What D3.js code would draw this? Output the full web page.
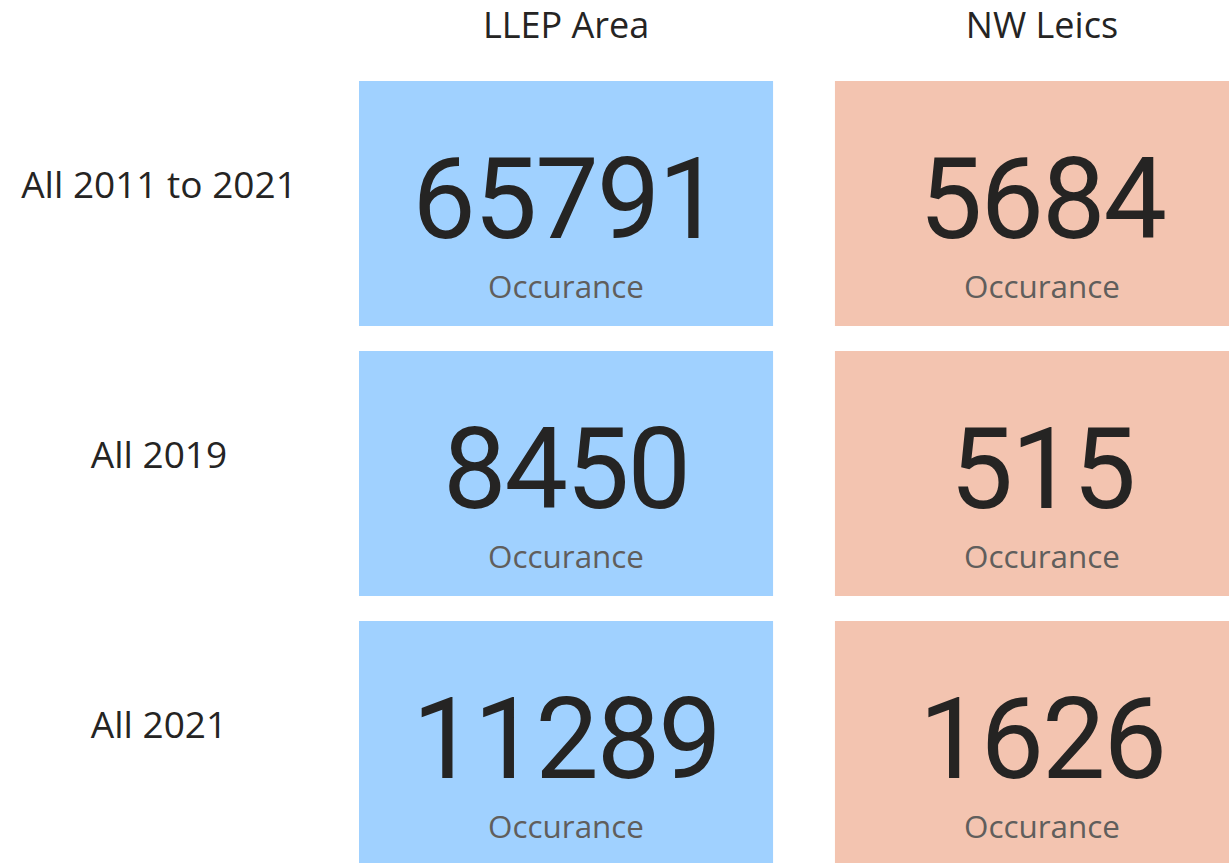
<!DOCTYPE html>
<html>
<head>
<meta charset="utf-8">
<script src="https://cdn.jsdelivr.net/npm/d3@7"></script>
<style>
  body { margin: 0; background: #fff; overflow: hidden; }
</style>
</head>
<body>
<div id="cards"></div>
<script>
var svgWidth = 1229;
var svgHeight = 863;

// data
var areas = ["LLEP Area", "NW Leics"];
var periods = ["All 2011 to 2021", "All 2019", "All 2021"];
var llepValues = [65791, 8450, 11289];
var nwLeicsValues = [5684, 515, 1626];
var measureLabel = "Occurance";
var areaColors = ["#a0d1ff", "#f3c4b0"];

var cells = [];
periods.forEach(function(p, i) {
  cells.push({ area: areas[0], period: p, value: llepValues[i] });
  cells.push({ area: areas[1], period: p, value: nwLeicsValues[i] });
});

var svg = d3.select("#cards")
  .append("svg")
  .attr("width", svgWidth)
  .attr("height", svgHeight);

var xScale = d3.scaleBand()
  .domain(areas)
  .range([359, 1249])
  .paddingInner(0.13);

var yScale = d3.scaleBand()
  .domain(periods)
  .range([81, 866])
  .paddingInner(0.0926);

var colorScale = d3.scaleOrdinal().domain(areas).range(areaColors);

// column headers
svg.selectAll(".header")
  .data(areas)
  .enter()
  .append("text")
  .attr("class", "header")
  .attr("x", d => xScale(d) + xScale.bandwidth() / 2)
  .attr("y", 38)
  .attr("text-anchor", "middle")
  .attr("font-family", "'Open Sans', sans-serif")
  .attr("font-size", "36px")
  .attr("fill", "#252423")
  .text(d => d);

// row labels
svg.selectAll(".rowLabel")
  .data(periods)
  .enter()
  .append("text")
  .attr("class", "rowLabel")
  .attr("x", 159)
  .attr("y", d => yScale(d) + 117)
  .attr("text-anchor", "middle")
  .attr("font-family", "'Open Sans', sans-serif")
  .attr("font-size", "37px")
  .attr("fill", "#252423")
  .text(d => d);

// cards
var card = svg.selectAll(".card")
  .data(cells)
  .enter()
  .append("g")
  .attr("class", "card")
  .attr("transform", d => `translate(${xScale(d.area)}, ${yScale(d.period)})`);

card.append("rect")
  .attr("width", xScale.bandwidth())
  .attr("height", yScale.bandwidth())
  .attr("fill", d => colorScale(d.area));

card.append("text")
  .attr("x", xScale.bandwidth() / 2)
  .attr("y", 157)
  .attr("text-anchor", "middle")
  .attr("font-family", "Roboto, sans-serif")
  .attr("font-weight", 450)
  .attr("font-size", "113px")
  .attr("letter-spacing", "-2px")
  .attr("fill", "#252423")
  .text(d => d.value);

card.append("text")
  .attr("x", xScale.bandwidth() / 2)
  .attr("y", 217)
  .attr("text-anchor", "middle")
  .attr("font-family", "'Open Sans', sans-serif")
  .attr("font-size", "31.4px")
  .attr("fill", "#605e5c")
  .text(measureLabel);
</script>
</body>
</html>
